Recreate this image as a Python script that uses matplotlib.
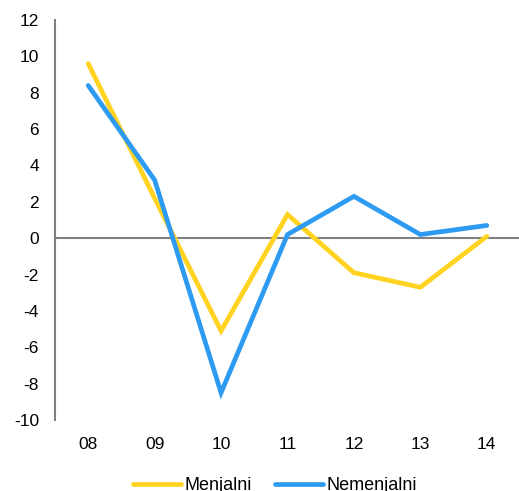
import matplotlib
matplotlib.use("Agg")
import matplotlib.pyplot as plt

categories = ["08", "09", "10", "11", "12", "13", "14"]
menjalni = [9.6, 2.2, -5.1, 1.3, -1.9, -2.7, 0.1]
nemenjalni = [8.4, 3.2, -8.5, 0.2, 2.3, 0.2, 0.7]
yticks = list(range(-10, 13, 2))

plt.rcParams['font.family'] = ['Liberation Sans', 'DejaVu Sans']

fig = plt.figure(figsize=(5.19, 4.91), dpi=100)
ax = fig.add_axes([55/519, 1 - 420/491, 465/519, 400/491])

x = list(range(len(categories)))
ax.plot(x, menjalni, color="#FFD320", lw=3.4, solid_capstyle="round", solid_joinstyle="miter", label="Menjalni", zorder=3)
ax.plot(x, nemenjalni, color="#2E9BF2", lw=3.4, solid_capstyle="round", solid_joinstyle="miter", label="Nemenjalni", zorder=3)

ax.set_xlim(-0.5, len(categories) - 0.5)
ax.set_ylim(-10, 12)
ax.set_yticks(yticks)
ax.set_yticklabels([str(v) for v in yticks])
ax.set_xticks(x)
ax.set_xticklabels(categories)
ax.axhline(0, color="#808080", lw=1.5, zorder=2)

for s in ["top", "right", "bottom"]:
    ax.spines[s].set_visible(False)
ax.spines["left"].set_color("#808080")
ax.spines["left"].set_linewidth(1.5)
ax.tick_params(axis="both", length=0, labelsize=12.5, colors="black")
ax.tick_params(axis="y", pad=11.5)
ax.tick_params(axis="x", pad=12)

fig.legend(loc="center", bbox_to_anchor=(275/519, 1 - 486/491), ncol=2, frameon=False,
           fontsize=13, handlelength=2.65, columnspacing=1.3, handletextpad=0.2)

fig.savefig("out.png", dpi=100)
